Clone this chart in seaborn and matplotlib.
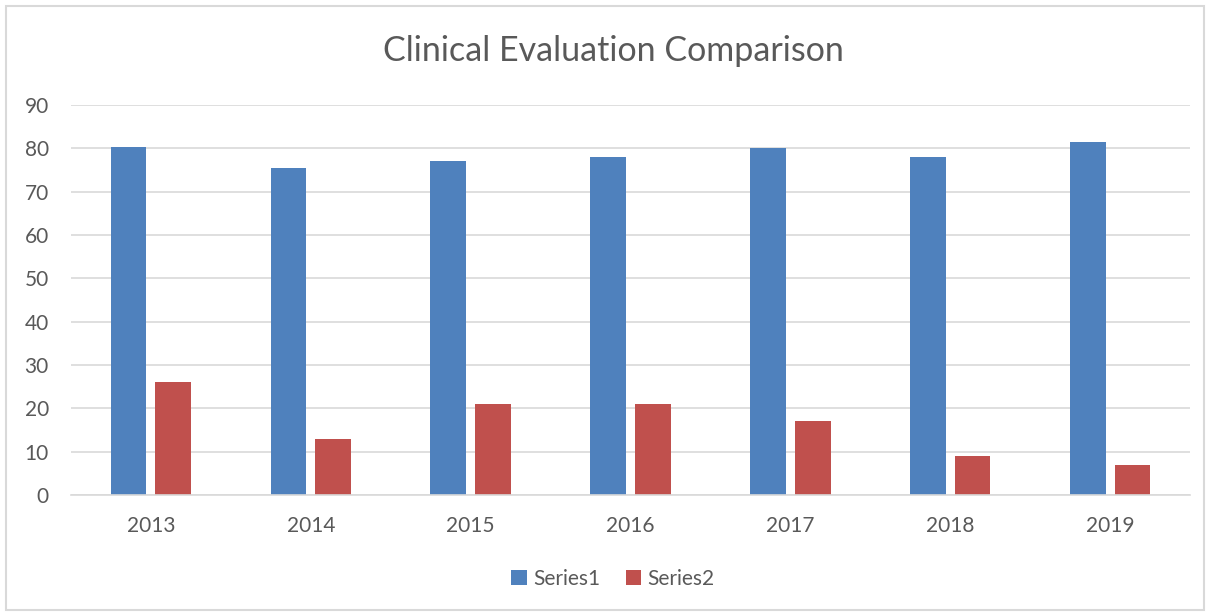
import pandas as pd
import matplotlib.pyplot as plt
import seaborn as sns
from matplotlib.patches import Rectangle

years = ["2013", "2014", "2015", "2016", "2017", "2018", "2019"]
series1 = [80.2, 75.5, 77.1, 77.9, 80.0, 78.1, 81.4]
series2 = [26, 13, 21, 21, 17, 9, 7]
series_names = ["Series1", "Series2"]
colors = ["#4F81BD", "#C0504D"]
text_color = "#595959"
grid_color = "#D9D9D9"

df = pd.DataFrame({
    "year": years * 2,
    "value": series1 + series2,
    "series": [series_names[0]] * len(years) + [series_names[1]] * len(years),
})

sns.set_style("white")
plt.rcParams["font.family"] = ["Lato", "DejaVu Sans"]

fig = plt.figure(figsize=(12.1, 6.16), dpi=100)
ax = fig.add_axes([71 / 1210, 1 - 495 / 616, (1190 - 71) / 1210, (495 - 105) / 616])

sns.barplot(
    data=df, x="year", y="value", hue="series",
    palette=colors, width=0.56, gap=0.2, ax=ax, legend=True,
    saturation=1, edgecolor="none",
)

ax.set_ylim(0, 90)
ax.set_yticks(range(0, 91, 10))
ax.set_xlim(-0.5, len(years) - 0.5)
ax.yaxis.grid(True, color=grid_color, linewidth=1.2)
ax.set_axisbelow(True)
for side in ["top", "right", "left"]:
    ax.spines[side].set_visible(False)
ax.spines["bottom"].set_color(grid_color)
ax.spines["bottom"].set_linewidth(1.2)
ax.tick_params(axis="both", length=0, labelsize=15, colors=text_color)
ax.tick_params(axis="x", pad=15)
ax.tick_params(axis="y", pad=16)
ax.set_xlabel("")
ax.set_ylabel("")

fig.text(613 / 1210, 1 - 51 / 616, "Clinical Evaluation Comparison",
         ha="center", va="center", fontsize=24.5, color=text_color)

handles, labels = ax.get_legend_handles_labels()
ax.legend_.remove()
fig.legend(handles, labels, loc="center", bbox_to_anchor=(613 / 1210, 1 - 579 / 616),
           ncol=2, frameon=False, fontsize=15, handlelength=0.75, handleheight=0.75,
           columnspacing=1.2, handletextpad=0.3, labelcolor=text_color)

fig.patches.append(Rectangle((6 / 1210, 6 / 616), 1198 / 1210, 604 / 616,
                             transform=fig.transFigure, fill=False,
                             edgecolor=grid_color, linewidth=1.5))

fig.savefig("out.png", dpi=100)
